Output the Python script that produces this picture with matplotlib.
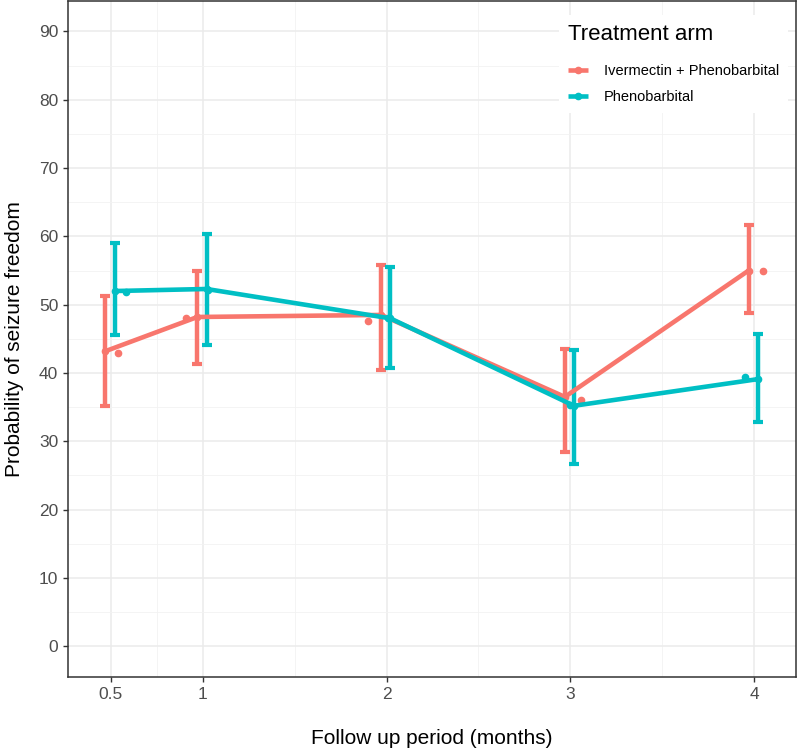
import matplotlib.pyplot as plt
import numpy as np

plt.rcParams['font.family'] = ['Liberation Sans', 'DejaVu Sans']

# follow-up times (months)
months = np.array([0.5, 1, 2, 3, 4])

# Ivermectin + Phenobarbital: estimate with 95% CI
iver_mean = np.array([43.2, 48.2, 48.5, 36.5, 55.0])
iver_lo = np.array([35.1, 41.3, 40.4, 28.5, 48.8])
iver_hi = np.array([51.2, 55.0, 55.8, 43.5, 61.7])

# Phenobarbital only
pheno_mean = np.array([52.0, 52.3, 48.0, 35.2, 39.1])
pheno_lo = np.array([45.5, 44.1, 40.8, 26.7, 32.8])
pheno_hi = np.array([59.0, 60.3, 55.5, 43.3, 45.7])

# jittered observed points
iver_pts_x = [0.54, 0.91, 1.90, 3.06, 4.05]
iver_pts_y = [42.9, 48.0, 47.6, 36.0, 55.0]
pheno_pts_x = [0.58, 1.03, 2.01, 3.00, 3.95]
pheno_pts_y = [51.8, 52.2, 48.0, 35.3, 39.4]

labels = ['Ivermectin + Phenobarbital', 'Phenobarbital']
colors = ['#F8766D', '#00BFC4']
dodge = [-0.03, 0.02]

fig = plt.figure(figsize=(8, 7.48), dpi=100)
ax = fig.add_axes([0.085, 0.095, 0.91, 0.904])

series = [(iver_mean, iver_lo, iver_hi, iver_pts_x, iver_pts_y),
          (pheno_mean, pheno_lo, pheno_hi, pheno_pts_x, pheno_pts_y)]

handles = []
for (mean, lo, hi, px, py), lab, col, dx in zip(series, labels, colors, dodge):
    xs = months + dx
    ax.errorbar(xs, mean, yerr=[mean - lo, hi - mean], fmt='none', ecolor=col,
                elinewidth=3.2, capsize=3.3, capthick=3, zorder=3)
    h, = ax.plot(xs, mean, color=col, lw=3.3, marker='o', ms=4.5, label=lab,
                 zorder=4, solid_capstyle='butt')
    ax.plot(px, py, 'o', color=col, ms=4.5, zorder=4)
    handles.append(h)

ax.set_xlim(0.266, 4.228)
ax.set_ylim(-4.5, 94.5)
ax.set_xticks(months)
ax.set_xticklabels(['0.5', '1', '2', '3', '4'])
ax.set_xticks([0.75, 1.5, 2.5, 3.5], minor=True)
ax.set_yticks(np.arange(0, 91, 10))
ax.set_yticks(np.arange(5, 90, 10), minor=True)
ax.grid(which='major', color='#EBEBEB', lw=1.1)
ax.grid(which='minor', color='#F2F2F2', lw=0.6)
ax.set_axisbelow(True)
ax.tick_params(which='major', length=3.5, width=1, color='#333333',
               labelcolor='#4D4D4D', labelsize=12.5)
ax.tick_params(which='minor', length=0)
for s in ax.spines.values():
    s.set_color('#333333')
    s.set_linewidth(1.1)

ax.set_xlabel('Follow up period (months)', fontsize=15, labelpad=20)
ax.set_ylabel('Probability of seizure freedom', fontsize=15, labelpad=11)

leg = ax.legend(handles=handles, title='Treatment arm', loc='upper left',
                bbox_to_anchor=(0.6745, 0.979), borderaxespad=0,
                fontsize=10.5, title_fontsize=16,
                frameon=True, fancybox=False, edgecolor='none', framealpha=1,
                handlelength=1.4, handletextpad=1.1, labelspacing=0.8,
                borderpad=0.6)
leg._legend_box.align = 'left'
leg._legend_box.sep = 14

fig.savefig('out.png', dpi=100)
